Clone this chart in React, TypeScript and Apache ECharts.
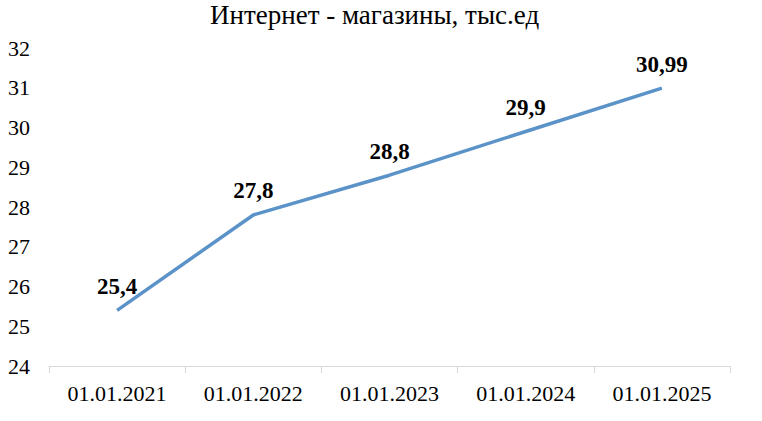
import React, { useEffect, useRef } from "react";
import * as echarts from "echarts";

const categories = ["01.01.2021", "01.01.2022", "01.01.2023", "01.01.2024", "01.01.2025"];
const values = [25.4, 27.8, 28.8, 29.9, 30.99];
const titleText = "Интернет - магазины, тыс.ед";

export default function App() {
  const ref = useRef<HTMLDivElement>(null);
  useEffect(() => {
    document.body.style.margin = "0";
    if (!ref.current) return;
    const chart = echarts.init(ref.current, null, { renderer: "svg" });
    const font = "'Liberation Serif', 'Times New Roman', serif";
    chart.setOption({
      animation: false,
      backgroundColor: "#ffffff",
      textStyle: { fontFamily: font },
      title: {
        text: titleText,
        left: 205,
        top: -4,
        textStyle: { fontFamily: font, fontSize: 27, fontWeight: "normal", color: "#000" },
      },
      grid: { left: 49, right: 32, top: 48, bottom: 55 },
      xAxis: {
        type: "category",
        data: categories,
        boundaryGap: true,
        axisLine: { lineStyle: { color: "#d9d9d9", width: 1 } },
        axisTick: { show: true, length: 7, lineStyle: { color: "#d9d9d9" } },
        axisLabel: { fontFamily: font, fontSize: 22, color: "#000", margin: 16 },
      },
      yAxis: {
        type: "value",
        min: 24,
        max: 32,
        interval: 1,
        splitLine: { show: false },
        axisLine: { show: false },
        axisTick: { show: false },
        axisLabel: { fontFamily: font, fontSize: 22, color: "#000", margin: 19 },
      },
      series: [
        {
          type: "line",
          data: values,
          symbol: "circle",
          symbolSize: 1,
          showSymbol: true,
          itemStyle: { color: "rgba(0,0,0,0)" },
          lineStyle: { color: "#5B93C9", width: 3.5 },
          label: {
            show: true,
            position: "top",
            distance: 12,
            fontFamily: font,
            fontSize: 23,
            fontWeight: "bold",
            color: "#000",
            formatter: (p: any) => String(p.value).replace(".", ","),
          },
        },
      ],
    });
    return () => chart.dispose();
  }, []);
  return <div ref={ref} style={{ width: 762, height: 421 }} />;
}
